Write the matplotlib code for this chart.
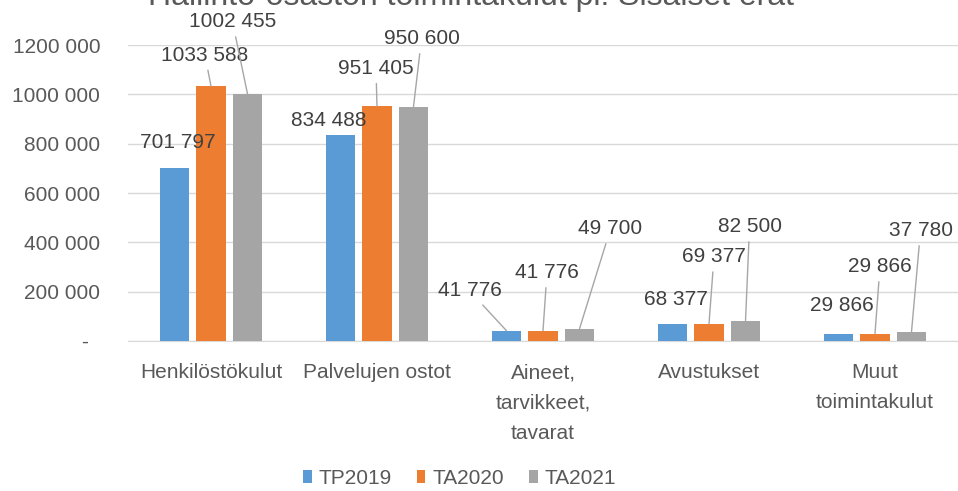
import matplotlib.pyplot as plt
import numpy as np

plt.rcParams['font.family'] = ['Liberation Sans', 'DejaVu Sans']

# dataset
categories = ['Henkilöstökulut', 'Palvelujen ostot', 'Aineet,\ntarvikkeet,\ntavarat',
              'Avustukset', 'Muut\ntoimintakulut']
series = ['TP2019', 'TA2020', 'TA2021']
tp2019 = [701797, 834488, 41776, 68377, 29866]
ta2020 = [1033588, 951405, 41776, 69377, 29866]
ta2021 = [1002455, 950600, 49700, 82500, 37780]
yticks = [0, 200000, 400000, 600000, 800000, 1000000, 1200000]

colors = ['#5b9bd5', '#ed7d31', '#a5a5a5']

# label offsets in pixels (dx, dy) from bar top, per series
label_offsets = [
    [(3, 25), (-12, 15), (-37, 40), (3, 25), (3, 28)],
    [(-6, 31), (-1, 38), (4, 58), (5, 67), (5, 67)],
    [(-15, 72), (8, 68), (31, 100), (4, 94), (9, 101)],
]


def fmt(v):
    # Excel-style: space as thousands separator, dash for zero
    if v == 0:
        return '-  '
    s = '{:,}'.format(v).replace(',', ' ')
    if v >= 1000000:
        s = s.replace(' ', '', 1)
    return s


fig = plt.figure(figsize=(9.58, 4.91), dpi=100)
ax = fig.add_axes([0.1336, 0.3055, 0.8664, 0.6025])

x = np.arange(len(categories))
barWidth = 0.18
shift = 0.22
data = [tp2019, ta2020, ta2021]
for i, vals in enumerate(data):
    xs = x + (i - 1) * shift
    ax.bar(xs, vals, width=barWidth, color=colors[i], label=series[i], zorder=3)
    for j, v in enumerate(vals):
        dx, dy = label_offsets[i][j]
        arrow = dict(arrowstyle='-', color='#a6a6a6', lw=1, shrinkA=2, shrinkB=0) if dy > 29 else None
        ax.annotate(fmt(v), xy=(xs[j], v), xytext=(dx, dy), textcoords='offset pixels',
                    ha='center', va='center', fontsize=15, color='#404040',
                    arrowprops=arrow, zorder=4, annotation_clip=False)

ax.set_xlim(-0.5, len(categories) - 0.5)
ax.set_ylim(0, 1200000)
ax.set_yticks(yticks)
ax.set_yticklabels([fmt(v) for v in yticks])
ax.set_xticks(x)
ax.set_xticklabels(categories, linespacing=1.75)
ax.tick_params(axis='y', length=0, pad=20, labelsize=15, labelcolor='#595959')
ax.tick_params(axis='x', length=0, pad=16, labelsize=15, labelcolor='#595959')
ax.grid(axis='y', color='#d9d9d9', lw=1, zorder=0)
for s in ['top', 'right', 'left']:
    ax.spines[s].set_visible(False)
ax.spines['bottom'].set_color('#d9d9d9')

fig.text(0.492, 0.99, 'Hallinto-osaston toimintakulut pl. Sisäiset erät', ha='center', va='baseline',
         fontsize=23, color='#595959')

fig.legend(loc='center', bbox_to_anchor=(0.48, 0.025), ncol=3, frameon=False, fontsize=15,
           labelcolor='#595959', handlelength=0.4, handleheight=0.6, handletextpad=0.35, columnspacing=1.2)

fig.savefig('out.png', dpi=100)
